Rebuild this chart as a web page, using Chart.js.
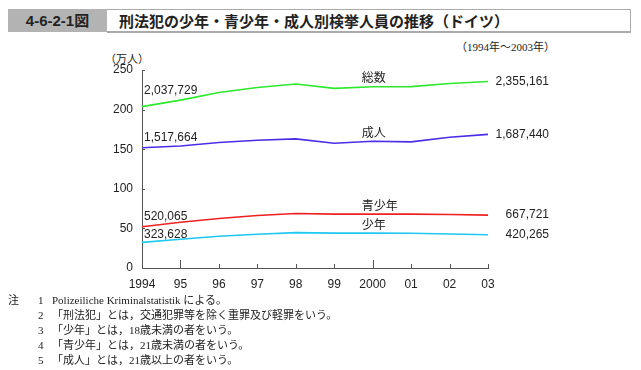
<!DOCTYPE html>
<html>
<head>
<meta charset="utf-8">
<script src="https://cdn.jsdelivr.net/npm/chart.js@4"></script>
<style>
  body { margin: 0; width: 641px; height: 370px; background: #fff; position: relative; overflow: hidden; font-family: "Liberation Sans", Arial, "Noto Sans CJK JP", sans-serif; color: #222; }
  #numBox { position: absolute; left: 8px; top: 9px; width: 99px; height: 23px; background: #b3b3b3; font-weight: bold; font-size: 15px; line-height: 23px; text-align: center; }
  #titleBox { position: absolute; left: 107px; top: 9px; width: 511px; height: 21px; border: 1px solid #aaa; border-bottom: 2px solid #aaa; border-left: none; font-weight: bold; font-size: 15px; line-height: 21px; padding-left: 12px; font-family: "Noto Sans CJK JP", sans-serif; }
  #period { position: absolute; left: 456px; top: 38px; font-family: "Liberation Serif", "Noto Sans CJK JP", serif; font-size: 11px; }
  #unit { position: absolute; left: 105px; top: 50px; font-family: "Liberation Serif", "Noto Sans CJK JP", serif; font-size: 11px; }
  #wrap { position: absolute; left: 0; top: 40px; }
  #notes { position: absolute; left: 8px; top: 293px; font-family: "Liberation Serif", "Noto Sans CJK JP", serif; font-size: 11px; line-height: 15px; }
  #notes .row { white-space: nowrap; }
  #notes .k { display: inline-block; width: 30px; }
  #notes .n { display: inline-block; width: 14px; }
</style>
</head>
<body>
<div id="numBox">4-6-2-1図</div>
<div id="titleBox">刑法犯の少年・青少年・成人別検挙人員の推移（ドイツ）</div>
<div id="period">（1994年～2003年）</div>
<div id="unit">（万人）</div>
<div id="wrap"><canvas id="myChart" width="641" height="255"></canvas></div>
<div id="notes">
  <div class="row"><span class="k">注</span><span class="n">1</span>Polizeiliche Kriminalstatistik による。</div>
  <div class="row"><span class="k"></span><span class="n">2</span>「刑法犯」とは，交通犯罪等を除く重罪及び軽罪をいう。</div>
  <div class="row"><span class="k"></span><span class="n">3</span>「少年」とは，18歳未満の者をいう。</div>
  <div class="row"><span class="k"></span><span class="n">4</span>「青少年」とは，21歳未満の者をいう。</div>
  <div class="row"><span class="k"></span><span class="n">5</span>「成人」とは，21歳以上の者をいう。</div>
</div>
<script>
// Data (万人)
const years = ['1994', '95', '96', '97', '98', '99', '2000', '01', '02', '03'];
const seriesNames = ['総数', '成人', '青少年', '少年'];
const total = [203.8, 212, 221.5, 228, 232.3, 226.8, 228.8, 229, 233, 235.5];
const adult = [151.8, 154.1, 158.4, 161.3, 163, 157.5, 160, 159.2, 165, 168.7];
const youth = [52.0, 57.8, 62.5, 66.3, 68.8, 68, 68, 68, 67.5, 66.8];
const juvenile = [32.4, 36.3, 40, 42.6, 44.7, 44, 44, 43.8, 43, 42.0];
const startLabels = ['2,037,729', '1,517,664', '520,065', '323,628'];
const endLabels = ['2,355,161', '1,687,440', '667,721', '420,265'];
const yTicks = [0, 50, 100, 150, 200, 250];

const colors = ['#2de82d', '#4b2de6', '#ee2020', '#1ec8f0'];
const startOffset = [-16, -10, -10, -8];

// tick marks inside the plot + line labels
const labelPlugin = {
  id: 'labels',
  afterDraw(chart) {
    const ctx = chart.ctx;
    const xs = chart.scales.x, ys = chart.scales.y;
    const area = chart.chartArea;
    ctx.save();
    ctx.strokeStyle = '#555';
    ctx.lineWidth = 1;
    years.forEach((y, i) => {
      const px = Math.round(xs.getPixelForValue(i)) + 0.5;
      const len = (i === 1 || i === 6) ? 8 : 4;
      ctx.beginPath();
      ctx.moveTo(px, area.bottom);
      ctx.lineTo(px, area.bottom - len);
      ctx.stroke();
    });
    yTicks.forEach(v => {
      const py = Math.round(ys.getPixelForValue(v)) + 0.5;
      ctx.beginPath();
      ctx.moveTo(area.left, py);
      ctx.lineTo(area.left + 3, py);
      ctx.stroke();
    });

    ctx.fillStyle = '#222';
    ctx.font = '12px "Liberation Sans", Arial, sans-serif';
    ctx.textBaseline = 'middle';
    chart.data.datasets.forEach((ds, i) => {
      const first = ds.data[0], last = ds.data[ds.data.length - 1];
      ctx.textAlign = 'left';
      ctx.fillText(startLabels[i], xs.getPixelForValue(0) + 2, ys.getPixelForValue(first) + startOffset[i]);
      ctx.textAlign = 'right';
      ctx.fillText(endLabels[i], xs.getPixelForValue(years.length - 1) + 61, ys.getPixelForValue(last));
      ctx.textAlign = 'left';
      ctx.font = '12px "Noto Sans CJK JP", sans-serif';
      ctx.fillText(seriesNames[i], xs.getPixelForValue(6) - 11, ys.getPixelForValue(ds.data[6]) - 9);
      ctx.font = '12px "Liberation Sans", Arial, sans-serif';
    });
    ctx.restore();
  }
};

const ctx = document.getElementById('myChart');
const myChart = new Chart(ctx, {
  type: 'line',
  data: {
    labels: years,
    datasets: [total, adult, youth, juvenile].map((d, i) => ({
      label: seriesNames[i],
      data: d,
      borderColor: colors[i],
      borderWidth: 1.6,
      pointRadius: 0,
      tension: 0,
      fill: false
    }))
  },
  options: {
    responsive: false,
    animation: false,
    devicePixelRatio: 1,
    layout: { padding: { left: 0, right: 153, top: 30, bottom: 5 } },
    plugins: { legend: { display: false }, tooltip: { enabled: false } },
    scales: {
      x: {
        offset: false,
        grid: { display: false },
        border: { display: true, color: '#555', width: 1 },
        ticks: { color: '#222', font: { size: 12, family: '"Liberation Sans", Arial, sans-serif' }, padding: 1, maxRotation: 0, autoSkip: false },
        afterFit(scale) { scale.height = 22; }
      },
      y: {
        min: 0,
        max: 250,
        grid: { display: false },
        border: { display: true, color: '#555', width: 1 },
        ticks: { stepSize: 50, color: '#222', font: { size: 12, family: '"Liberation Sans", Arial, sans-serif' }, padding: 1 },
        afterFit(scale) { scale.width = 142; }
      }
    }
  },
  plugins: [labelPlugin]
});
</script>
</body>
</html>
